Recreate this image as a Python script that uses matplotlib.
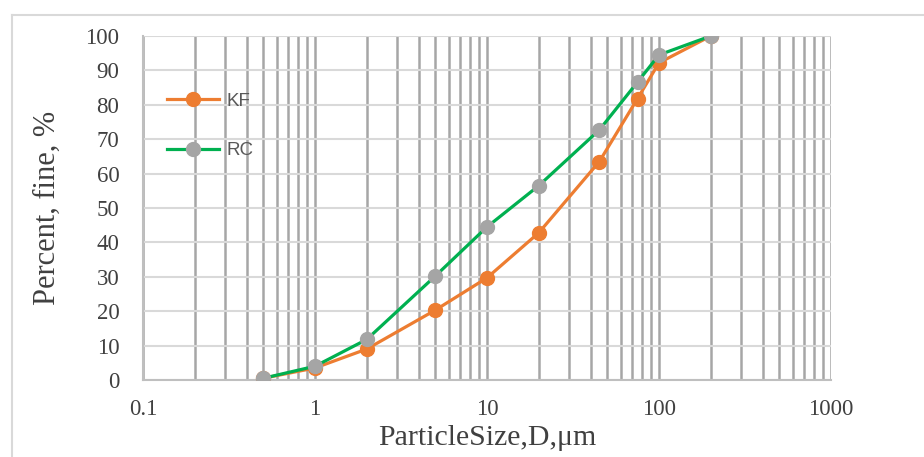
import matplotlib.pyplot as plt
from matplotlib.ticker import LogLocator, FixedLocator, FixedFormatter
from matplotlib.lines import Line2D

# particle size (um) and cumulative percent passing
size_um = [0.5, 1, 2, 5, 10, 20, 45, 75, 100, 200]
kf_pct = [0.5, 3.5, 9, 20.3, 29.7, 42.8, 63.5, 81.8, 92.2, 100]
rc_pct = [0.5, 4, 11.8, 30.2, 44.5, 56.5, 72.7, 86.6, 94.5, 100]

x_ticks = [0.1, 1, 10, 100, 1000]
x_tick_labels = ["0.1", "1", "10", "100", "1000"]
y_ticks = list(range(0, 101, 10))

ORANGE = "#ED7D31"
GREEN = "#00B050"
GREY = "#A5A5A5"

plt.rcParams["font.family"] = ["Liberation Serif", "DejaVu Serif"]

fig = plt.figure(figsize=(9.24, 4.57), dpi=100)
ax = fig.add_axes([143 / 924, 1 - 380 / 457, (831 - 143) / 924, (380 - 36) / 457])

# outer chart frame (top and left edges visible)
fig.add_artist(Line2D([12 / 924, 1], [1 - 15 / 457, 1 - 15 / 457], color="#d9d9d9", lw=1.5))
fig.add_artist(Line2D([12 / 924, 12 / 924], [0, 1 - 15 / 457], color="#d9d9d9", lw=1.5))

ax.set_xscale("log")
ax.set_xlim(0.1, 1000)
ax.set_ylim(0, 100)

ax.xaxis.set_major_locator(FixedLocator(x_ticks))
ax.xaxis.set_major_formatter(FixedFormatter(x_tick_labels))
ax.xaxis.set_minor_locator(LogLocator(base=10, subs=range(2, 10), numticks=20))
ax.yaxis.set_major_locator(FixedLocator(y_ticks))

ax.grid(True, axis="x", which="both", color="#a6a6a6", lw=1.8)
ax.grid(True, axis="y", which="major", color="#d9d9d9", lw=1.5)
ax.set_axisbelow(True)

for side in ["top", "right"]:
    ax.spines[side].set_visible(False)
for side in ["left", "bottom"]:
    ax.spines[side].set_color("#bfbfbf")
    ax.spines[side].set_linewidth(1.5)

ax.tick_params(which="both", length=0, labelsize=16.5, colors="#404040")
ax.tick_params(axis="x", pad=14)
ax.tick_params(axis="y", pad=17)

ax.plot(size_um, kf_pct, color=ORANGE, lw=2.3, marker="o", ms=10,
        markerfacecolor=ORANGE, markeredgecolor=ORANGE, label="KF", zorder=3)
ax.plot(size_um, rc_pct, color=GREEN, lw=2.3, marker="o", ms=10,
        markerfacecolor=GREY, markeredgecolor=GREY, label="RC", zorder=4)

leg = ax.legend(loc="upper left", bbox_to_anchor=(0.01, 0.885), frameon=False,
                handlelength=2.8, labelspacing=1.75, handletextpad=0.4,
                prop={"family": ["Liberation Sans", "DejaVu Sans"], "size": 13.5})
for t in leg.get_texts():
    t.set_color("#595959")

ax.set_xlabel("ParticleSize,D,\u03bcm", fontsize=21.5, color="#404040")
ax.set_ylabel("Percent, fine, %", fontsize=22, color="#404040")
ax.xaxis.set_label_coords(0.5, -0.13)
ax.yaxis.set_label_coords(-0.118, 0.5)

fig.savefig("out.png", dpi=100)
